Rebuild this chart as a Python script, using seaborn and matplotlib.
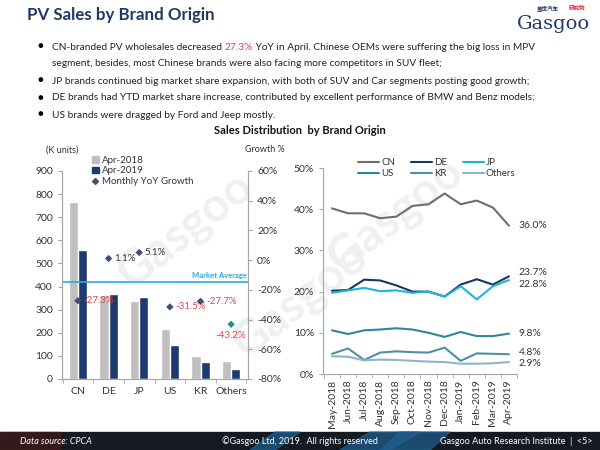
import pandas as pd
import seaborn as sns
import matplotlib.pyplot as plt
from matplotlib.lines import Line2D
from matplotlib.patches import Patch, Rectangle, Polygon

# left chart: April wholesales by brand origin
brands = ['CN', 'DE', 'JP', 'US', 'KR', 'Others']
sales_2018 = [765, 364, 338, 218, 100, 76]
sales_2019 = [558, 368, 355, 149, 73, 43]
yoy_growth = [-27.3, 1.1, 5.1, -31.5, -27.7, -43.2]
market_average = -14.7

# right chart: monthly market share
months = ['May-2018', 'Jun-2018', 'Jul-2018', 'Aug-2018', 'Sep-2018', 'Oct-2018',
          'Nov-2018', 'Dec-2018', 'Jan-2019', 'Feb-2019', 'Mar-2019', 'Apr-2019']
share_cn = [40.2, 39.0, 39.0, 37.8, 38.2, 40.8, 41.2, 43.8, 41.2, 42.1, 40.4, 36.0]
share_de = [20.2, 20.4, 22.9, 22.7, 21.5, 20.0, 20.0, 18.8, 21.7, 23.0, 21.7, 23.7]
share_jp = [19.7, 20.3, 20.9, 20.1, 20.3, 19.7, 20.0, 18.8, 21.3, 18.1, 21.3, 22.8]
share_us = [10.6, 9.7, 10.6, 10.8, 11.1, 10.8, 10.0, 9.0, 10.2, 9.2, 9.2, 9.8]
share_kr = [4.9, 6.2, 3.4, 5.2, 5.5, 5.3, 5.2, 6.4, 3.2, 5.0, 4.9, 4.8]
share_others = [4.3, 4.2, 3.3, 3.5, 3.4, 3.2, 3.0, 2.9, 2.5, 2.5, 2.6, 2.9]

bullets = [
    None,  # first line has coloured part, drawn separately
    'segment, besides, most Chinese brands were also facing more competitors in SUV fleet;',
    'JP brands continued big market share expansion, with both of SUV and Car segments posting good growth;',
    'DE brands had YTD market share increase, contributed by excellent performance of BMW and Benz models;',
    'US brands were dragged by Ford and Jeep mostly.',
]

GRAY_BAR = '#bfbfbf'
NAVY = '#1f3a6e'
TITLE_BLUE = '#1f3864'
RED = '#e0474c'
line_colors = {'CN': '#6e6e6e', 'DE': '#17375e', 'JP': '#1fb5d8',
               'US': '#31869b', 'KR': '#4f8fa3', 'Others': '#8fb4c4'}

sns.set_style('white')
plt.rcParams['font.family'] = ['Lato', 'DejaVu Sans']
plt.rcParams['axes.edgecolor'] = '#a6a6a6'
plt.rcParams['text.color'] = '#333333'

fig = plt.figure(figsize=(6, 4.5), dpi=100)


def fx(px):
    return px / 600


def fy(px):
    return 1 - px / 450


# header
fig.text(fx(27), fy(15), 'PV Sales by Brand Origin', fontsize=12.2, fontweight='bold',
         color=TITLE_BLUE, va='center')
fig.text(fx(590), fy(24), 'Gasgoo', fontsize=14, color=TITLE_BLUE, ha='right', va='center',
         family=['DejaVu Serif'])
fig.text(fx(548), fy(8), '盖世汽车', fontsize=4, color=TITLE_BLUE, ha='center', va='center',
         family=['Noto Sans CJK SC'], fontweight='bold')
fig.text(fx(577), fy(8), '研究院', fontsize=4, color='#e0202a', ha='center', va='center',
         family=['Noto Sans CJK SC'], fontweight='bold')

bullet_y = [47, 64, 81, 98, 115]
for i, y in enumerate(bullet_y):
    if i != 1:
        fig.text(fx(40), fy(y), '\u25CF', fontsize=7, color='black', ha='center', va='center')

fig.canvas.draw()
renderer = fig.canvas.get_renderer()
parts = [('CN-branded PV wholesales decreased ', '#222222'), ('27.3%', RED),
         (' YoY in April. Chinese OEMs were suffering the big loss in MPV', '#222222')]
x0 = fx(52)
for txt, col in parts:
    t = fig.text(x0, fy(bullet_y[0]), txt, fontsize=7.25, color=col, va='center')
    bb = t.get_window_extent(renderer=renderer)
    x0 += bb.width / fig.bbox.width
for y, txt in zip(bullet_y[1:], bullets[1:]):
    fig.text(fx(52), fy(y), txt, fontsize=7.25, color='#222222', va='center')

fig.text(fx(300), fy(131), 'Sales Distribution  by Brand Origin', fontsize=8, fontweight='bold',
         color='#111111', ha='center', va='center')

# faint watermarks, kept behind the axes
for (wx, wy, rot) in [(185, 230, 38), (300, 300, 38), (395, 215, 38)]:
    fig.text(fx(wx), fy(wy), 'Gasgoo', fontsize=34, color='#f0f0f0', rotation=rot,
             ha='center', va='center', zorder=-5, fontweight='bold')

# ---------- left chart ----------
ax = fig.add_axes([fx(62), fy(379), fx(248 - 62), (379 - 171) / 450])
ax.patch.set_alpha(0)
bars = pd.DataFrame({'brand': brands * 2,
                     'sales': sales_2018 + sales_2019,
                     'period': ['Apr-2018'] * 6 + ['Apr-2019'] * 6})
sns.barplot(data=bars, x='brand', y='sales', hue='period', palette=[GRAY_BAR, NAVY],
            width=0.6, ax=ax, legend=False, saturation=1)
ax.set_ylim(0, 900)
ax.set_yticks(range(0, 901, 100))
ax.set_xlim(-0.52, 5.55)
ax.set_xlabel('')
ax.set_ylabel('')
ax.spines['top'].set_visible(False)
ax.tick_params(axis='y', which='major', direction='out', length=3, labelsize=7.5,
               colors='#a6a6a6', labelcolor='#333333', left=True)
ax.tick_params(axis='x', which='major', length=0, labelsize=7.5, labelcolor='#333333', pad=6)
ax.set_xticks([i + 0.5 for i in range(-1, 6)], minor=True)
ax.tick_params(axis='x', which='minor', direction='out', length=3, colors='#a6a6a6', bottom=True)
ax.axhline(420, color='#29abe2', lw=1.2, zorder=1)
ax.text(5.5, 432, 'Market Average', color='#29abe2', fontsize=5.5, fontweight='bold',
        ha='right', va='bottom')

ax2 = ax.twinx()
growth_df = pd.DataFrame({'brand': brands, 'growth': yoy_growth})
marker_colors = ['#3b5272'] * 5 + ['#2e8a8a']
sns.scatterplot(data=growth_df, x='brand', y='growth', marker='D', s=14, hue='brand',
                palette=dict(zip(brands, marker_colors)), edgecolor='none', legend=False,
                ax=ax2, zorder=5)
ax2.set_ylim(-80, 60)
ax2.set_yticks(range(-80, 61, 20))
ax2.set_yticklabels([f'{v}%' for v in range(-80, 61, 20)])
ax2.set_ylabel('')
ax2.spines['top'].set_visible(False)
ax2.tick_params(axis='y', direction='out', length=3, labelsize=7.5, colors='#a6a6a6',
                labelcolor='#333333', right=True)
for i, g in enumerate(yoy_growth):
    col = RED if g < 0 else '#333333'
    if brands[i] == 'Others':
        ax2.annotate(f'{g}%', (i, g), xytext=(0, -8), textcoords='offset points',
                     ha='center', va='center', fontsize=7, color=col)
    else:
        ax2.annotate(f'{g}%', (i, g), xytext=(4, 0), textcoords='offset points',
                     ha='left', va='center', fontsize=7, color=col)

fig.text(fx(62), fy(150), '(K units)', fontsize=6.5, ha='center', va='center')
fig.text(fx(265), fy(150), 'Growth %', fontsize=6.5, ha='center', va='center')
handles = [Patch(color=GRAY_BAR, label='Apr-2018'), Patch(color=NAVY, label='Apr-2019'),
           Line2D([], [], marker='D', ls='', color='#3b5272', markersize=3,
                  label='Monthly YoY Growth')]
fig.legend(handles=handles, loc='upper left', bbox_to_anchor=(fx(92), fy(156)), frameon=False,
           fontsize=7, handlelength=0.7, handleheight=0.7, handletextpad=0.3, labelspacing=0.15,
           borderaxespad=0, borderpad=0)

# ---------- right chart ----------
ar = fig.add_axes([fx(323), fy(374), fx(517 - 323), (374 - 168) / 450])
ar.patch.set_alpha(0)
shares = pd.DataFrame({
    'month': months * 6,
    'share': share_cn + share_de + share_jp + share_us + share_kr + share_others,
    'origin': sum([[o] * 12 for o in ['CN', 'DE', 'JP', 'US', 'KR', 'Others']], []),
})
shares['pos'] = list(range(12)) * 6
sns.lineplot(data=shares, x='pos', y='share', hue='origin', palette=line_colors, lw=1.5,
             ax=ar, legend=False)
ar.set_ylim(0, 50)
ar.set_yticks(range(0, 51, 10))
ar.set_yticklabels([f'{v}%' for v in range(0, 51, 10)])
ar.set_xlim(-0.56, 11.5)
ar.set_xticks(range(12))
ar.set_xticklabels(months, rotation=90)
ar.set_xticks([i + 0.5 for i in range(-1, 12)], minor=True)
ar.set_xlabel('')
ar.set_ylabel('')
for s in ['top', 'right']:
    ar.spines[s].set_visible(False)
ar.tick_params(axis='y', direction='out', length=3, labelsize=7.5, colors='#a6a6a6',
               labelcolor='#333333', left=True)
ar.tick_params(axis='x', which='major', length=0, labelsize=7.5, labelcolor='#333333', pad=4)
ar.tick_params(axis='x', which='minor', direction='out', length=3, colors='#a6a6a6', bottom=True)

end_labels = [('36.0%', share_cn[-1], 0), ('23.7%', share_de[-1], 3),
              ('22.8%', share_jp[-1], -3), ('9.8%', share_us[-1], 0),
              ('4.8%', share_kr[-1], 1), ('2.9%', share_others[-1], -1)]
for txt, v, dy in end_labels:
    ar.annotate(txt, (11, v), xytext=(7, dy), textcoords='offset points', ha='left',
                va='center', fontsize=7.5, color='#333333', annotation_clip=False)

# legend is filled column by column, so order gives rows CN DE JP / US KR Others
leg_order = ['CN', 'US', 'DE', 'KR', 'JP', 'Others']
leg_handles = [Line2D([], [], color=line_colors[o], lw=1.5, label=o) for o in leg_order]
fig.legend(handles=leg_handles, loc='upper left', bbox_to_anchor=(fx(358), fy(158)), ncol=3,
           frameon=False, fontsize=7, handlelength=2.2, handletextpad=0.2, columnspacing=1.6,
           labelspacing=0.2, borderaxespad=0, borderpad=0)

# ---------- footer ----------
fig.patches.append(Rectangle((0, 0), 1, fy(432), transform=fig.transFigure, color='#151a22',
                             zorder=0))
for xs in [(250, 275, 300, 275), (340, 370, 420, 390), (380, 400, 450, 430)]:
    fig.patches.append(Polygon([(fx(xs[0]), 0), (fx(xs[1]), fy(432)), (fx(xs[2]), fy(432)),
                                (fx(xs[3]), 0)], closed=True, transform=fig.transFigure,
                               color='#1f5f8f', alpha=0.7, zorder=0))
fig.patches.append(Rectangle((0, 0), fx(60), fy(432), transform=fig.transFigure,
                             color='#4a1a1a', alpha=0.6, zorder=0))
fig.text(fx(20), fy(441), 'Data source: CPCA', fontsize=6.5, style='italic', color='white',
         va='center')
fig.text(fx(300), fy(441), '\u00A9Gasgoo Ltd, 2019.  All rights reserved', fontsize=6.5,
         color='white', ha='center', va='center')
fig.text(fx(592), fy(441), 'Gasgoo Auto Research Institute  |  <5>', fontsize=6.5,
         color='white', ha='right', va='center')

fig.savefig('out.png', dpi=100)
